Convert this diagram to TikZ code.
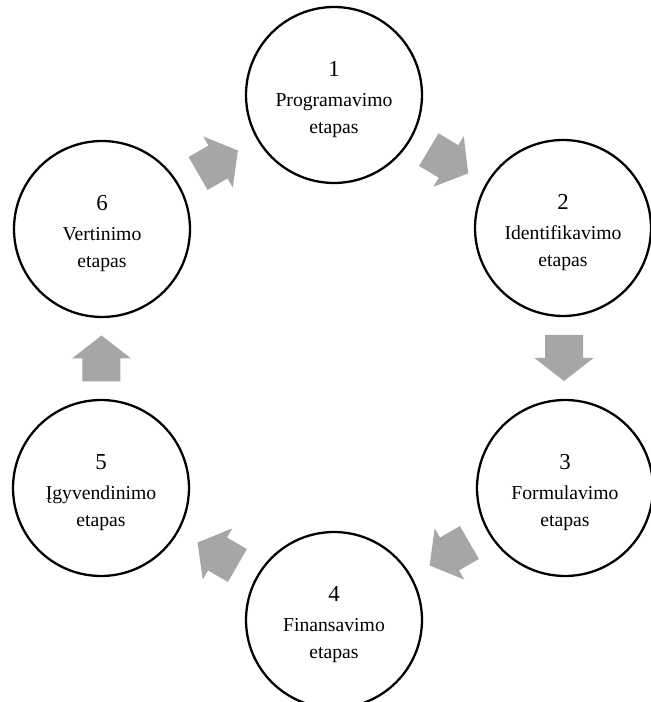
\documentclass[tikz,border=0pt]{standalone}
\usepackage{fontspec}
\setmainfont{Liberation Serif}
\usepackage{tikz}
\usetikzlibrary{calc}
\definecolor{arrowgray}{RGB}{166,166,166}
\newcommand{\stagenum}[1]{{\fontsize{13}{15.4}\selectfont\rule{0pt}{13.5pt}#1}}
\tikzset{
	stage/.style={circle, draw=black, line width=1.3pt, minimum size=3.52cm, inner sep=0pt, align=center, font=\fontsize{11.2}{15.4}\selectfont},
	blockarrow/.style={draw=none, fill=arrowgray}
}

\begin{document}
\begin{tikzpicture}[x=0.02cm, y=0.02cm]
				\useasboundingbox (-334,-345) rectangle (316,357);
				\node[stage] (s1) at (0,262) {\stagenum{1}\\[1.8pt]Programavimo\\etapas};
				\node[stage] (s2) at (229,129) {\stagenum{2}\\[1.8pt]Identifikavimo\\etapas};
				\node[stage] (s3) at (231,-131) {\stagenum{3}\\[1.8pt]Formulavimo\\etapas};
				\node[stage] (s4) at (0,-263) {\stagenum{4}\\[1.8pt]Finansavimo\\etapas};
				\node[stage] (s5) at (-233,-131) {\stagenum{5}\\[1.8pt]Įgyvendinimo\\etapas};
				\node[stage] (s6) at (-232,128) {\stagenum{6}\\[1.8pt]Vertinimo\\etapas};
				\foreach \p/\q/\r in {s1/s2/-31, s2/s3/-90, s3/s4/-150, s4/s5/150, s5/s6/90, s6/s1/30} {
					\draw[blockarrow, shift={($(\p)!0.5!(\q)$)}, rotate=\r] (-23,-19) -- (0,-19) -- (0,-29.5) -- (23,0) -- (0,29.5) -- (0,19) -- (-23,19) -- cycle;
				}
			\end{tikzpicture}
\end{document}
